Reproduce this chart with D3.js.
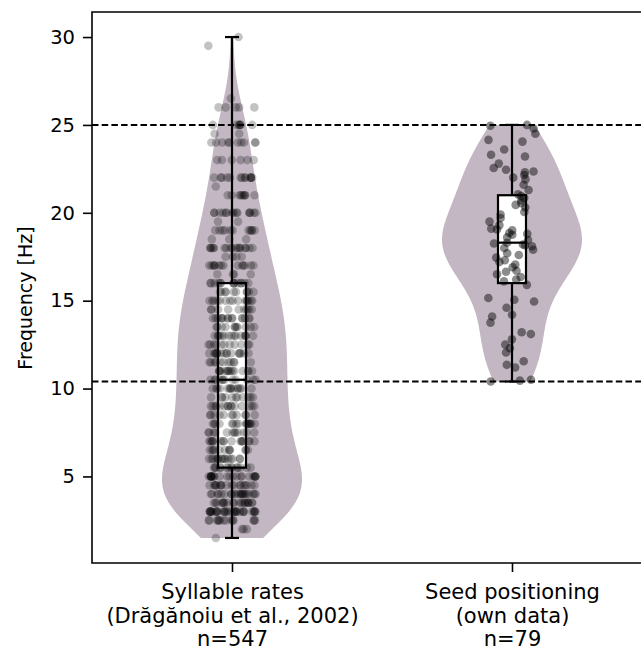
<!DOCTYPE html>
<html>
<head>
<meta charset="utf-8">
<script src="https://cdn.jsdelivr.net/npm/d3@7"></script>
<style>
  body { margin: 0; background: #fff; }
  text { font-family: "DejaVu Sans", sans-serif; fill: #000; }
</style>
</head>
<body>
<div class="canvas"></div>
<script>
// syllable rates: value / how many recordings at that value
const syllableRates = [1.5, 2, 2.5, 3, 3.5, 4, 4.5, 5, 5.5, 6, 6.5, 7, 7.5, 8, 8.5, 9, 9.5, 10,
  10.5, 11, 11.5, 12, 12.5, 13, 13.5, 14, 14.5, 15, 15.5, 16, 16.5, 17, 17.5, 18, 18.5, 19,
  19.5, 20, 21, 21.5, 22, 23, 24, 24.5, 25, 26, 26.5, 29.5, 30];
const syllableCounts = [1, 3, 14, 30, 20, 22, 18, 22, 14, 15, 12, 16, 12, 16, 11, 15, 11, 14,
  12, 15, 11, 16, 11, 15, 11, 15, 10, 15, 10, 14, 4, 14, 4, 17, 3, 11,
  2, 15, 9, 1, 13, 6, 10, 2, 7, 5, 1, 1, 1];

// seed positioning (own data), n=79
const seedValues = [10.4, 10.45, 10.5, 11.2, 11.35, 11.55, 12.05, 12.3, 12.5, 12.8,
  13.1, 13.2, 13.75, 14.1, 14.2, 14.6, 14.95, 15.05, 15.15, 15.9,
  16.1, 16.2, 16.35, 16.5, 16.65, 16.7, 16.9, 17.05, 17.2, 17.3,
  17.45, 17.6, 17.7, 17.9, 18.0, 18.1, 18.15, 18.2, 18.25, 18.3,
  18.45, 18.6, 18.75, 18.8, 18.85, 19.0, 19.05, 19.1, 19.3, 19.5,
  19.7, 19.9, 20.05, 20.3, 20.45, 20.55, 20.7, 20.85, 20.95, 21.05,
  21.3, 21.6, 21.9, 22.0, 22.15, 22.3, 22.35, 22.45, 22.55, 22.8,
  23.2, 23.3, 23.6, 24.05, 24.15, 24.5, 24.8, 24.95, 25.0];

const categoryLabels = [
  ["Syllable rates", "(Drăgănoiu et al., 2002)", "n=547"],
  ["Seed positioning", "(own data)", "n=79"]
];
const yTicks = [5, 10, 15, 20, 25, 30];
const refLines = [25, 10.4];

const syllableValues = [];
syllableRates.forEach((v, i) => {
  for (let k = 0; k < syllableCounts[i]; k++) syllableValues.push(v);
});

const groups = [
  { values: syllableValues, alpha: 0.24 },
  { values: seedValues, alpha: 0.45 }
];

const dims = { width: 641, height: 650 };
const margin = { left: 92, top: 12, bottom: 563, right: 652 };

const svg = d3
  .select(".canvas")
  .append("svg")
  .attr("width", dims.width)
  .attr("height", dims.height);

const x = d3.scaleLinear().domain([-0.5, 1.5]).range([margin.left, margin.right]);
const y = d3.scaleLinear().domain([0.075, 31.425]).range([margin.bottom, margin.top]);

const violinColor = "#c2b7c2";

// gaussian kde, scott bandwidth, cut at data range
const kde = (vals) => {
  const n = vals.length;
  const bw = d3.deviation(vals) * Math.pow(n, -1 / 5);
  const lo = d3.min(vals), hi = d3.max(vals);
  const pts = d3.range(100).map((i) => lo + (hi - lo) * i / 99);
  return pts.map((p) => {
    let s = 0;
    vals.forEach((v) => {
      const z = (p - v) / bw;
      s += Math.exp(-0.5 * z * z);
    });
    return [p, s / (n * bw * Math.sqrt(2 * Math.PI))];
  });
};

const plot = svg.append("g");

groups.forEach((g, i) => {
  const dens = kde(g.values);
  const maxD = d3.max(dens, (d) => d[1]);
  const w = d3.scaleLinear().domain([0, maxD]).range([0, 0.25]);
  const area = d3
    .area()
    .y((d) => y(d[0]))
    .x0((d) => x(i - w(d[1])))
    .x1((d) => x(i + w(d[1])));
  plot.append("path").datum(dens).attr("d", area).attr("fill", violinColor);
});

// dashed reference lines
plot
  .selectAll(".ref")
  .data(refLines)
  .enter()
  .append("line")
  .attr("x1", margin.left)
  .attr("x2", dims.width)
  .attr("y1", (d) => y(d))
  .attr("y2", (d) => y(d))
  .attr("stroke", "#000")
  .attr("stroke-width", 2)
  .attr("stroke-dasharray", "6.5,3.2");

const boxW = 0.05;
groups.forEach((g, i) => {
  const s = g.values.slice().sort(d3.ascending);
  g.q1 = d3.quantileSorted(s, 0.25);
  g.med = d3.quantileSorted(s, 0.5);
  g.q3 = d3.quantileSorted(s, 0.75);
  g.min = s[0];
  g.max = s[s.length - 1];
  plot
    .append("rect")
    .attr("x", x(i - boxW))
    .attr("width", x(i + boxW) - x(i - boxW))
    .attr("y", y(g.q3))
    .attr("height", y(g.q1) - y(g.q3))
    .attr("fill", "#fff");
});

// jittered points
const rand = d3.randomUniform.source(d3.randomLcg(0.137))(-0.085, 0.085);
groups.forEach((g, i) => {
  plot
    .append("g")
    .selectAll("circle")
    .data(g.values)
    .enter()
    .append("circle")
    .attr("cx", () => x(i + rand()))
    .attr("cy", (d) => y(d))
    .attr("r", 4.3)
    .attr("fill", "#000")
    .attr("fill-opacity", g.alpha);
});

// box outlines, whiskers, caps, median
groups.forEach((g, i) => {
  const b = plot.append("g").attr("stroke", "#000").attr("stroke-width", 2.2).attr("fill", "none");
  b.append("line").attr("x1", x(i)).attr("x2", x(i)).attr("y1", y(g.q3)).attr("y2", y(g.max));
  b.append("line").attr("x1", x(i)).attr("x2", x(i)).attr("y1", y(g.q1)).attr("y2", y(g.min));
  [g.max, g.min].forEach((v) => {
    b.append("line")
      .attr("x1", x(i - boxW / 2))
      .attr("x2", x(i + boxW / 2))
      .attr("y1", y(v))
      .attr("y2", y(v));
  });
  b.append("rect")
    .attr("x", x(i - boxW))
    .attr("width", x(i + boxW) - x(i - boxW))
    .attr("y", y(g.q3))
    .attr("height", y(g.q1) - y(g.q3));
  b.append("line")
    .attr("x1", x(i - boxW))
    .attr("x2", x(i + boxW))
    .attr("y1", y(g.med))
    .attr("y2", y(g.med));
});

// axes
const yAxis = svg
  .append("g")
  .attr("transform", `translate(${margin.left},0)`)
  .call(d3.axisLeft(y).tickValues(yTicks).tickSize(9).tickPadding(8).tickFormat(d3.format("d")));
yAxis.select(".domain").remove();
yAxis.selectAll("line").attr("stroke-width", 1.6);
yAxis.selectAll("text").attr("font-size", 19.5).attr("font-family", "DejaVu Sans");

const xAxis = svg
  .append("g")
  .attr("transform", `translate(0,${margin.bottom})`)
  .call(d3.axisBottom(x).tickValues([0, 1]).tickSize(9).tickFormat(""));
xAxis.select(".domain").remove();
xAxis.selectAll("line").attr("stroke-width", 1.6);

xAxis
  .selectAll(".tick")
  .data(categoryLabels)
  .append("text")
  .attr("font-size", 21)
  .attr("font-family", "DejaVu Sans")
  .attr("fill", "#000")
  .attr("text-anchor", "middle")
  .selectAll("tspan")
  .data((d) => d)
  .enter()
  .append("tspan")
  .attr("x", 0)
  .attr("y", (d, k) => 36 + k * 23.5)
  .text((d) => d);

// spines
svg
  .append("path")
  .attr("d", `M${dims.width},${margin.top}H${margin.left}V${margin.bottom}H${dims.width}`)
  .attr("fill", "none")
  .attr("stroke", "#000")
  .attr("stroke-width", 1.6);

svg
  .append("text")
  .attr("transform", `translate(25,298) rotate(-90)`)
  .attr("text-anchor", "middle")
  .attr("dominant-baseline", "central")
  .attr("font-size", 19)
  .text("Frequency [Hz]");
</script>
</body>
</html>
